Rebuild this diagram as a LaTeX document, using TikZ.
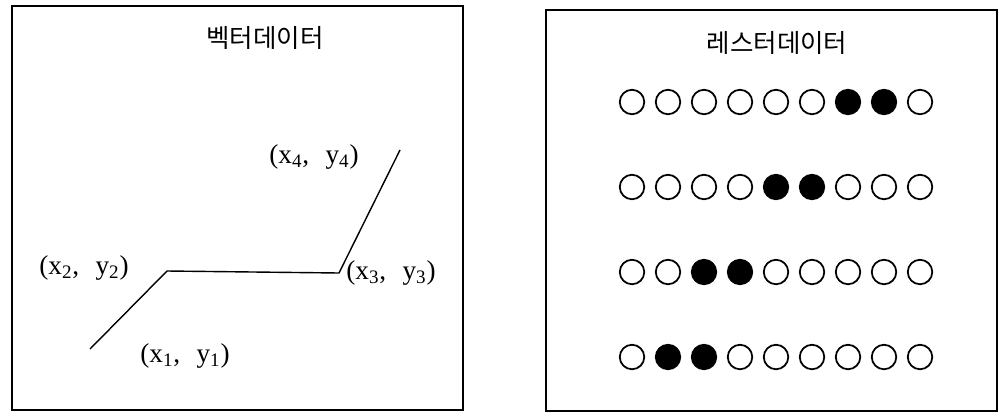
\documentclass[tikz,border=0pt]{standalone}
\usepackage{fontspec}
\setmainfont{Liberation Serif}
\newfontfamily\krfont{Noto Sans CJK KR}
\usetikzlibrary{positioning}
\tikzset{
  panel/.style={draw=black,line width=1.1pt},
  paneltitle/.style={font=\krfont\fontsize{14.5}{16}\selectfont,inner sep=0pt},
  ptlabel/.style={font=\fontsize{15.5}{17}\selectfont,inner sep=0pt},
  vecline/.style={draw=black,line width=0.8pt},
  pixel/.style={circle,draw=black,line width=1pt,
                minimum size=0.49cm,inner sep=0pt}
}
\newcommand{\ptxt}[1]{(x\textsubscript{#1},\hspace{0.6em}y\textsubscript{#1})}

\begin{document}
\begin{tikzpicture}[x=0.02cm,y=-0.02cm]
      \useasboundingbox (0,0) rectangle (1000,416);
      % vector panel
      \draw[panel] (12,6) rectangle (463,410);
      \node[paneltitle] (vectitle) at (265,38) {벡터데이터};
      \coordinate (p1) at (90,349);
      \coordinate (p2) at (167,271);
      \coordinate (p3) at (339,273);
      \coordinate (p4) at (400,150);
      \draw[vecline] (p1)--(p2)--(p3)--(p4);
      \node[ptlabel] (lab1) at (185,356) {\ptxt{1}};
      \node[ptlabel] (lab2) at (84,268) {\ptxt{2}};
      \node[ptlabel] (lab3) at (391,273) {\ptxt{3}};
      \node[ptlabel] (lab4) at (314,157) {\ptxt{4}};
      % raster panel
      \draw[panel] (546,10) rectangle (997,411);
      \node[paneltitle] (rastitle) at (777,43) {레스터데이터};
      \foreach \r/\y/\a/\b in {1/102/7/8,2/187/5/6,3/272/3/4,4/357/2/3}{
        \foreach \c in {1,...,9}{
          \pgfmathtruncatemacro\pixon{(\c==\a)||(\c==\b)}
          \ifnum\pixon=1 \def\pixfill{black}\else\def\pixfill{white}\fi
          \node[pixel,fill=\pixfill] (px-\r-\c) at ({632+36*(\c-1)},\y) {};
        }
      }
    \end{tikzpicture}
\end{document}
